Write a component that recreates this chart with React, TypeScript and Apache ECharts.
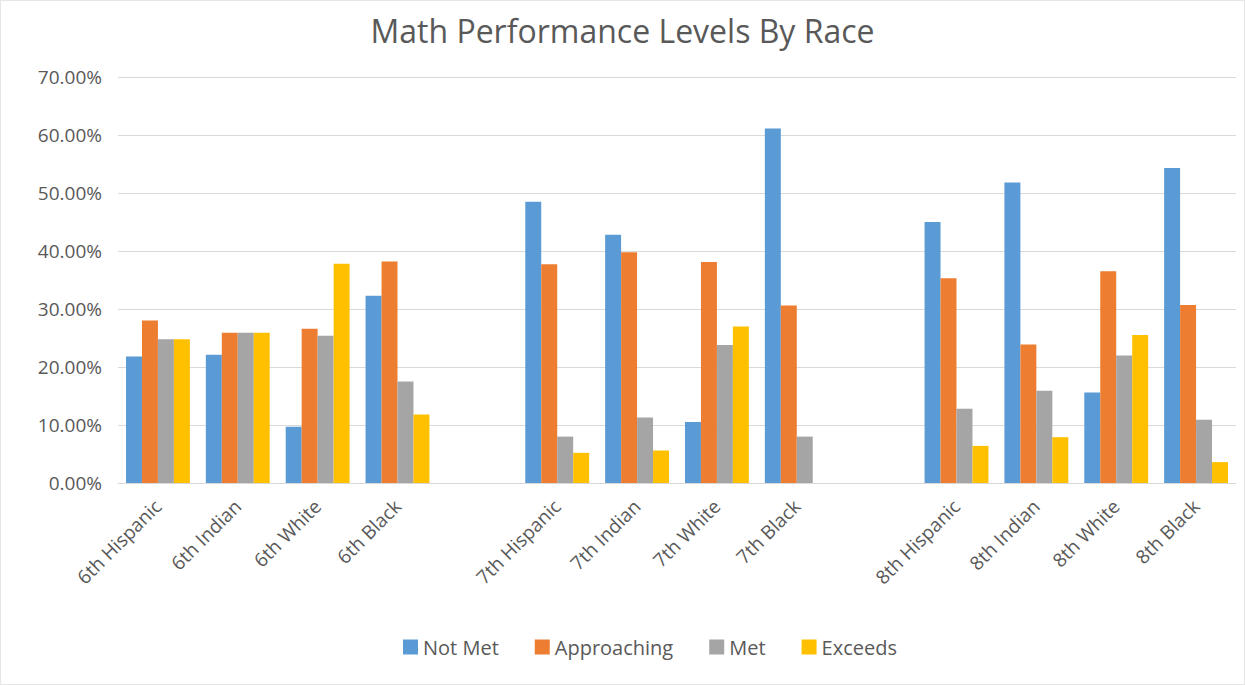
import React, { useEffect, useRef } from "react";
import * as echarts from "echarts";

const categories = [
  "6th Hispanic", "6th Indian", "6th White", "6th Black", "",
  "7th Hispanic", "7th Indian", "7th White", "7th Black", "",
  "8th Hispanic", "8th Indian", "8th White", "8th Black",
];

const notMet = [21.8, 22.1, 9.7, 32.3, null, 48.5, 42.8, 10.5, 61.1, null, 45.0, 51.8, 15.6, 54.3];
const approaching = [28.0, 25.9, 26.6, 38.2, null, 37.7, 39.8, 38.1, 30.6, null, 35.3, 23.9, 36.5, 30.7];
const met = [24.8, 25.9, 25.4, 17.5, null, 8.0, 11.3, 23.8, 8.0, null, 12.8, 15.9, 22.0, 10.9];
const exceeds = [24.8, 25.9, 37.8, 11.8, null, 5.2, 5.6, 27.0, 0, null, 6.4, 7.9, 25.5, 3.6];

const seriesNames = ["Not Met", "Approaching", "Met", "Exceeds"];
const colors = ["#5B9BD5", "#ED7D31", "#A5A5A5", "#FFC000"];

const yMin = 0;
const yMax = 70;
const yInterval = 10;

const FONT = "'Open Sans', 'Noto Sans', sans-serif";

export default function App() {
  const ref = useRef<HTMLDivElement>(null);
  useEffect(() => {
    if (!ref.current) return;
    const chart = echarts.init(ref.current, undefined, { renderer: "svg" });
    const data = [notMet, approaching, met, exceeds];
    chart.setOption({
      animation: false,
      backgroundColor: "#ffffff",
      color: colors,
      textStyle: { fontFamily: FONT },
      title: {
        text: "Math Performance Levels By Race",
        left: "center",
        top: 8,
        textStyle: { fontFamily: FONT, fontSize: 32, fontWeight: "normal", color: "#595959" },
      },
      legend: {
        top: 631,
        left: 397,
        itemWidth: 15,
        itemHeight: 15,
        itemGap: 36,
        icon: "rect",
        textStyle: { fontFamily: FONT, fontSize: 20, color: "#595959" },
        data: seriesNames,
      },
      grid: { left: 117, right: 8, top: 76, bottom: 685 - 484 },
      xAxis: {
        type: "category",
        data: categories,
        axisLine: { show: true, lineStyle: { color: "#D9D9D9" } },
        axisTick: { show: false },
        axisLabel: {
          interval: 0,
          rotate: 45,
          margin: 20,
          fontFamily: FONT,
          fontSize: 19,
          color: "#595959",
        },
      },
      yAxis: {
        type: "value",
        min: yMin,
        max: yMax,
        interval: yInterval,
        axisLine: { show: false },
        axisTick: { show: false },
        splitLine: { lineStyle: { color: "#D9D9D9" } },
        axisLabel: {
          margin: 16,
          fontFamily: FONT,
          fontSize: 19,
          color: "#595959",
          formatter: (v: number) => v.toFixed(2) + "%",
        },
      },
      series: seriesNames.map((name, i) => ({
        name,
        type: "bar",
        data: data[i],
        barGap: "0%",
        barCategoryGap: "20%",
      })),
    });
    return () => chart.dispose();
  }, []);
  return (
    <div
      ref={ref}
      style={{ position: "fixed", left: 0, top: 0, width: 1245, height: 685, boxSizing: "border-box", border: "1px solid #E6E6E6" }}
    />
  );
}
